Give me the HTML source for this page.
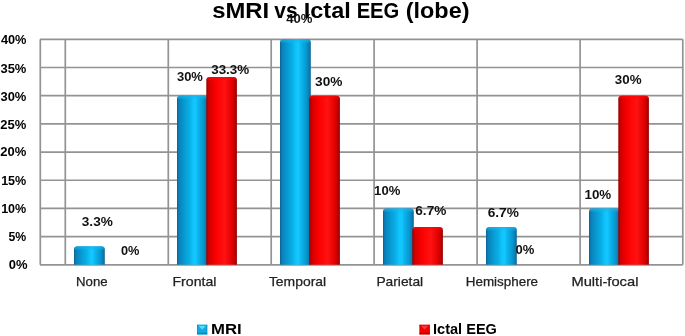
<!DOCTYPE html>
<html><head><meta charset="utf-8"><style>
html,body{margin:0;padding:0;background:#fff;}
body{width:685px;height:336px;overflow:hidden;position:relative;}
svg{position:absolute;left:0;top:0;will-change:transform;}
text{font-family:"Liberation Sans",sans-serif;}
</style></head><body>
<svg width="685" height="336" viewBox="0 0 685 336">
<defs>
<linearGradient id="gb" x1="0" y1="0" x2="1" y2="0">
<stop offset="0" stop-color="#0a5e8c"/>
<stop offset="0.04" stop-color="#0a78b0"/>
<stop offset="0.1" stop-color="#0a86be"/>
<stop offset="0.28" stop-color="#08a0d8"/>
<stop offset="0.4" stop-color="#0aaee6"/>
<stop offset="0.52" stop-color="#10c4fc"/>
<stop offset="0.6" stop-color="#12c8ff"/>
<stop offset="0.7" stop-color="#0cb2ea"/>
<stop offset="0.85" stop-color="#0898d0"/>
<stop offset="0.93" stop-color="#0a80b5"/>
<stop offset="1" stop-color="#0a6898"/>
</linearGradient>
<linearGradient id="gr" x1="0" y1="0" x2="1" y2="0">
<stop offset="0" stop-color="#9a0000"/>
<stop offset="0.08" stop-color="#d00000"/>
<stop offset="0.3" stop-color="#fb0000"/>
<stop offset="0.6" stop-color="#ff1212"/>
<stop offset="0.85" stop-color="#e00000"/>
<stop offset="0.95" stop-color="#b50000"/>
<stop offset="1" stop-color="#900000"/>
</linearGradient>
<linearGradient id="cb" x1="0" y1="0" x2="0" y2="1">
<stop offset="0" stop-color="#18b4ec" stop-opacity="0.75"/>
<stop offset="0.6" stop-color="#18b4ec" stop-opacity="0.45"/>
<stop offset="1" stop-color="#18b4ec" stop-opacity="0"/>
</linearGradient>
<linearGradient id="cr" x1="0" y1="0" x2="0" y2="1">
<stop offset="0" stop-color="#f80808" stop-opacity="0.7"/>
<stop offset="0.6" stop-color="#f80808" stop-opacity="0.4"/>
<stop offset="1" stop-color="#f80808" stop-opacity="0"/>
</linearGradient>
</defs>
<rect width="685" height="336" fill="#fff"/>
<g id="grid" stroke="#939393" stroke-width="1.7"><line x1="40" y1="39.30" x2="682.7" y2="39.30"/><line x1="40" y1="67.49" x2="682.7" y2="67.49"/><line x1="40" y1="95.67" x2="682.7" y2="95.67"/><line x1="40" y1="123.86" x2="682.7" y2="123.86"/><line x1="40" y1="152.05" x2="682.7" y2="152.05"/><line x1="40" y1="180.24" x2="682.7" y2="180.24"/><line x1="40" y1="208.43" x2="682.7" y2="208.43"/><line x1="40" y1="236.61" x2="682.7" y2="236.61"/><line x1="40" y1="264.80" x2="682.7" y2="264.80"/><line x1="40.3" y1="39.30" x2="40.3" y2="264.8"/><line x1="65.3" y1="39.30" x2="65.3" y2="264.8"/><line x1="168.3" y1="39.30" x2="168.3" y2="264.8"/><line x1="271.2" y1="39.30" x2="271.2" y2="264.8"/><line x1="374.1" y1="39.30" x2="374.1" y2="264.8"/><line x1="477.1" y1="39.30" x2="477.1" y2="264.8"/><line x1="580.1" y1="39.30" x2="580.1" y2="264.8"/><line x1="682.8" y1="39.30" x2="682.8" y2="264.8"/></g>
<g id="bars"><path d="M74,264.8 V249.20 A4,3 0 0 1 78,246.20 H100.8 A4,3 0 0 1 104.8,249.20 V264.8 Z" fill="url(#gb)"/><path d="M74,250.20 V249.20 A4,3 0 0 1 78,246.20 H100.8 A4,3 0 0 1 104.8,249.20 V250.20 Z" fill="url(#cb)"/><path d="M177,264.8 V98.68 A4,3 0 0 1 181,95.68 H203.8 A4,3 0 0 1 207.8,98.68 V264.8 Z" fill="url(#gb)"/><path d="M177,99.68 V98.68 A4,3 0 0 1 181,95.68 H203.8 A4,3 0 0 1 207.8,98.68 V99.68 Z" fill="url(#cb)"/><path d="M206.3,264.8 V80.07 A4,3 0 0 1 210.3,77.07 H232.9 A4,3 0 0 1 236.9,80.07 V264.8 Z" fill="url(#gr)"/><path d="M206.3,81.07 V80.07 A4,3 0 0 1 210.3,77.07 H232.9 A4,3 0 0 1 236.9,80.07 V81.07 Z" fill="url(#cr)"/><path d="M280,264.8 V42.30 A4,3 0 0 1 284,39.30 H306.8 A4,3 0 0 1 310.8,42.30 V264.8 Z" fill="url(#gb)"/><path d="M280,43.30 V42.30 A4,3 0 0 1 284,39.30 H306.8 A4,3 0 0 1 310.8,42.30 V43.30 Z" fill="url(#cb)"/><path d="M309.3,264.8 V98.68 A4,3 0 0 1 313.3,95.68 H335.90000000000003 A4,3 0 0 1 339.90000000000003,98.68 V264.8 Z" fill="url(#gr)"/><path d="M309.3,99.68 V98.68 A4,3 0 0 1 313.3,95.68 H335.90000000000003 A4,3 0 0 1 339.90000000000003,98.68 V99.68 Z" fill="url(#cr)"/><path d="M383,264.8 V211.43 A4,3 0 0 1 387,208.43 H409.8 A4,3 0 0 1 413.8,211.43 V264.8 Z" fill="url(#gb)"/><path d="M383,212.43 V211.43 A4,3 0 0 1 387,208.43 H409.8 A4,3 0 0 1 413.8,211.43 V212.43 Z" fill="url(#cb)"/><path d="M412.3,264.8 V230.03 A4,3 0 0 1 416.3,227.03 H438.90000000000003 A4,3 0 0 1 442.90000000000003,230.03 V264.8 Z" fill="url(#gr)"/><path d="M412.3,231.03 V230.03 A4,3 0 0 1 416.3,227.03 H438.90000000000003 A4,3 0 0 1 442.90000000000003,230.03 V231.03 Z" fill="url(#cr)"/><path d="M486,264.8 V230.03 A4,3 0 0 1 490,227.03 H512.8 A4,3 0 0 1 516.8,230.03 V264.8 Z" fill="url(#gb)"/><path d="M486,231.03 V230.03 A4,3 0 0 1 490,227.03 H512.8 A4,3 0 0 1 516.8,230.03 V231.03 Z" fill="url(#cb)"/><path d="M589,264.8 V211.43 A4,3 0 0 1 593,208.43 H615.8 A4,3 0 0 1 619.8,211.43 V264.8 Z" fill="url(#gb)"/><path d="M589,212.43 V211.43 A4,3 0 0 1 593,208.43 H615.8 A4,3 0 0 1 619.8,211.43 V212.43 Z" fill="url(#cb)"/><path d="M618.3,264.8 V98.68 A4,3 0 0 1 622.3,95.68 H644.9 A4,3 0 0 1 648.9,98.68 V264.8 Z" fill="url(#gr)"/><path d="M618.3,99.68 V98.68 A4,3 0 0 1 622.3,95.68 H644.9 A4,3 0 0 1 648.9,98.68 V99.68 Z" fill="url(#cr)"/></g>
<g id="legend"><rect x="197.1" y="324.8" width="10.1" height="9.6" fill="#12aae4"/><rect x="197.1" y="324.8" width="10.1" height="1" fill="#0a9ad6"/><polygon points="198.29999999999998,325.8 206.0,325.8 202.15,329.40000000000003" fill="#4ae6ff"/><rect x="197.1" y="332.6" width="10.1" height="1.8" fill="#0a8ac4"/><rect x="197.1" y="324.8" width="0.8" height="9.6" fill="#0a90cc"/><rect x="206.39999999999998" y="324.8" width="0.8" height="9.6" fill="#0a90cc"/><rect x="419.6" y="324.8" width="10.1" height="9.6" fill="#f20000"/><rect x="419.6" y="324.8" width="10.1" height="1" fill="#d80000"/><polygon points="420.8,325.8 428.50000000000006,325.8 424.65000000000003,329.40000000000003" fill="#ff3838"/><rect x="419.6" y="332.6" width="10.1" height="1.8" fill="#c00000"/><rect x="419.6" y="324.8" width="0.8" height="9.6" fill="#d00000"/><rect x="428.90000000000003" y="324.8" width="0.8" height="9.6" fill="#d00000"/></g>
<text id="t1" x="212.22" y="17.90" font-size="22.2" font-weight="bold" fill="#000" textLength="56.95" lengthAdjust="spacingAndGlyphs">sMRI</text>
<text id="t2" x="274.25" y="17.90" font-size="22.2" font-weight="bold" fill="#000" textLength="23.39" lengthAdjust="spacingAndGlyphs">vs</text>
<text id="t3" x="303.77" y="17.90" font-size="22.2" font-weight="bold" fill="#000" textLength="46.93" lengthAdjust="spacingAndGlyphs">Ictal</text>
<text id="t4" x="356.64" y="17.90" font-size="22.2" font-weight="bold" fill="#000" textLength="42.71" lengthAdjust="spacingAndGlyphs">EEG</text>
<text id="t5" x="405.73" y="17.90" font-size="22.2" font-weight="bold" fill="#000" textLength="63.78" lengthAdjust="spacingAndGlyphs">(lobe)</text>
<text id="y40" x="0.93" y="44.30" font-size="12.5" font-weight="bold" fill="#000" textLength="25.54" lengthAdjust="spacingAndGlyphs">40%</text>
<text id="y35" x="0.45" y="72.50" font-size="12.5" font-weight="bold" fill="#000" textLength="25.93" lengthAdjust="spacingAndGlyphs">35%</text>
<text id="y30" x="0.45" y="100.80" font-size="12.5" font-weight="bold" fill="#000" textLength="25.93" lengthAdjust="spacingAndGlyphs">30%</text>
<text id="y25" x="0.35" y="128.60" font-size="12.5" font-weight="bold" fill="#000" textLength="26.04" lengthAdjust="spacingAndGlyphs">25%</text>
<text id="y20" x="0.35" y="156.40" font-size="12.5" font-weight="bold" fill="#000" textLength="26.04" lengthAdjust="spacingAndGlyphs">20%</text>
<text id="y15" x="1.15" y="184.50" font-size="12.5" font-weight="bold" fill="#000" textLength="25.14" lengthAdjust="spacingAndGlyphs">15%</text>
<text id="y10" x="1.15" y="212.60" font-size="12.5" font-weight="bold" fill="#000" textLength="25.14" lengthAdjust="spacingAndGlyphs">10%</text>
<text id="y5" x="8.49" y="240.70" font-size="12.5" font-weight="bold" fill="#000" textLength="17.73" lengthAdjust="spacingAndGlyphs">5%</text>
<text id="y0" x="8.84" y="268.90" font-size="12.5" font-weight="bold" fill="#000" textLength="18.75" lengthAdjust="spacingAndGlyphs">0%</text>
<text id="c0" x="76.03" y="285.60" font-size="13" font-weight="normal" fill="#222" stroke="#222" stroke-width="0.25" textLength="31.60" lengthAdjust="spacingAndGlyphs">None</text>
<text id="c1" x="172.53" y="285.60" font-size="13" font-weight="normal" fill="#222" stroke="#222" stroke-width="0.25" textLength="43.86" lengthAdjust="spacingAndGlyphs">Frontal</text>
<text id="c2" x="268.93" y="285.60" font-size="13" font-weight="normal" fill="#222" stroke="#222" stroke-width="0.25" textLength="57.18" lengthAdjust="spacingAndGlyphs">Temporal</text>
<text id="c3" x="376.41" y="285.60" font-size="13" font-weight="normal" fill="#222" stroke="#222" stroke-width="0.25" textLength="46.71" lengthAdjust="spacingAndGlyphs">Parietal</text>
<text id="c4" x="465.74" y="285.60" font-size="13" font-weight="normal" fill="#222" stroke="#222" stroke-width="0.25" textLength="72.33" lengthAdjust="spacingAndGlyphs">Hemisphere</text>
<text id="c5" x="571.40" y="285.60" font-size="13" font-weight="normal" fill="#222" stroke="#222" stroke-width="0.25" textLength="67.02" lengthAdjust="spacingAndGlyphs">Multi-focal</text>
<text id="d0" x="81.81" y="226.10" font-size="12.5" font-weight="bold" fill="#111" textLength="31.07" lengthAdjust="spacingAndGlyphs">3.3%</text>
<text id="d1" x="120.91" y="255.40" font-size="12.5" font-weight="bold" fill="#111" textLength="18.45" lengthAdjust="spacingAndGlyphs">0%</text>
<text id="d2" x="176.93" y="81.30" font-size="12.5" font-weight="bold" fill="#111" textLength="25.97" lengthAdjust="spacingAndGlyphs">30%</text>
<text id="d3" x="211.19" y="74.10" font-size="12.5" font-weight="bold" fill="#111" textLength="38.05" lengthAdjust="spacingAndGlyphs">33.3%</text>
<text id="d4" x="286.26" y="23.10" font-size="12.5" font-weight="bold" fill="#111" textLength="26.17" lengthAdjust="spacingAndGlyphs">40%</text>
<text id="d5" x="315.05" y="86.30" font-size="12.5" font-weight="bold" fill="#111" textLength="27.38" lengthAdjust="spacingAndGlyphs">30%</text>
<text id="d6" x="374.12" y="194.50" font-size="12.5" font-weight="bold" fill="#111" textLength="26.18" lengthAdjust="spacingAndGlyphs">10%</text>
<text id="d7" x="415.30" y="214.80" font-size="12.5" font-weight="bold" fill="#111" textLength="31.04" lengthAdjust="spacingAndGlyphs">6.7%</text>
<text id="d8" x="487.70" y="216.70" font-size="12.5" font-weight="bold" fill="#111" textLength="31.16" lengthAdjust="spacingAndGlyphs">6.7%</text>
<text id="d9" x="515.42" y="253.90" font-size="12.5" font-weight="bold" fill="#111" textLength="18.83" lengthAdjust="spacingAndGlyphs">0%</text>
<text id="d10" x="584.47" y="198.60" font-size="12.5" font-weight="bold" fill="#111" textLength="26.81" lengthAdjust="spacingAndGlyphs">10%</text>
<text id="d11" x="614.85" y="84.40" font-size="12.5" font-weight="bold" fill="#111" textLength="26.71" lengthAdjust="spacingAndGlyphs">30%</text>
<text id="lg1" x="211.09" y="333.50" font-size="14.5" font-weight="bold" fill="#000" textLength="30.68" lengthAdjust="spacingAndGlyphs">MRI</text>
<text id="lg2" x="433.06" y="333.60" font-size="14.5" font-weight="bold" fill="#000" textLength="63.88" lengthAdjust="spacingAndGlyphs">Ictal EEG</text>
</svg>
</body></html>
